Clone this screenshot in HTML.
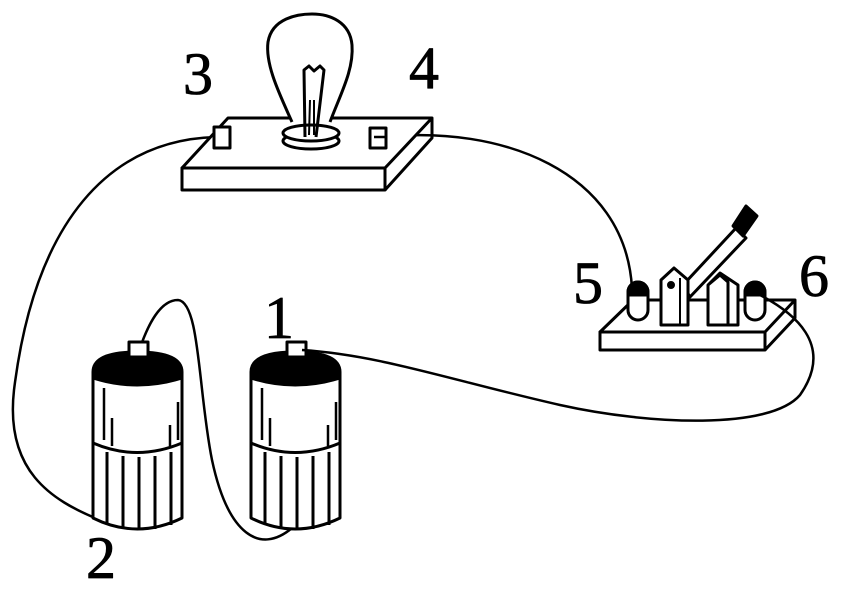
<!DOCTYPE html>
<html><head><style>body{margin:0;background:#fff} .lb{font-family:"Liberation Serif",serif;font-size:60px}</style></head><body>
<svg width="849" height="586" viewBox="0 0 849 586" xmlns="http://www.w3.org/2000/svg" fill="none" stroke="#000" stroke-width="3" stroke-linejoin="round">
<!-- wires -->
<path d="M216,137 C110,140 35,220 14,390 C5,470 50,500 100,520" stroke-width="2.5"/>
<path d="M384,137 C500,125 625,170 632,288" stroke-width="2.5"/>
<path d="M140,348 C148,325 160,300 178,300 C200,302 198,390 212,460 C228,535 260,555 292,528" stroke-width="2.5"/>
<!-- lamp base -->
<path d="M228,118 L432,118 L385,168 L182,168 Z" fill="#fff"/>
<rect x="182" y="168" width="203" height="22" fill="#fff"/>
<path d="M432,118 L432,138 L385,190"/>
<rect x="214" y="127" width="16" height="21" fill="#fff"/>
<rect x="370" y="128" width="16" height="20" fill="#fff"/>
<path d="M374,137 L386,137" stroke-width="2.5"/>
<!-- bulb -->
<path d="M292,122 C280,95 265,65 268,42 C272,18 298,14 312,14 C330,14 350,22 352,45 C354,70 340,95 330,122" fill="#fff"/>
<ellipse cx="311" cy="141" rx="28" ry="8" fill="#fff"/>
<ellipse cx="311" cy="133" rx="28" ry="8" fill="#fff"/>
<path d="M305,137 L304,70 L309,66 L314,71 L320,66 L324,70 L316,137"/>
<path d="M309,135 L310,100 M314,135 L314,100" stroke-width="2"/>
<!-- batteries -->
<g id="b">
<path d="M93,372 L93,518 Q137,540 182,518 L182,372" fill="#fff"/>
<path d="M93,372 Q93,352 137,352 Q182,352 182,372 L182,378 Q137,392 93,378 Z" fill="#000"/>
<path d="M93,443 Q137,462 182,443"/>
<path d="M107,452 L107,525 M123,456 L123,529 M139,457 L139,530 M155,456 L155,529 M171,452 L171,525"/>
<path d="M104,388 L104,440 M112,418 L112,446 M170,425 L170,446 M178,402 L178,440" stroke-width="2.5"/>
<rect x="129" y="342" width="19" height="15" fill="#fff"/>
</g>
<use href="#b" transform="translate(158,0)"/>
<!-- switch -->
<path d="M633,300 L795,300 L765,332 L600,332 Z" fill="#fff"/>
<rect x="600" y="332" width="165" height="18" fill="#fff"/>
<path d="M795,300 L795,318 L765,350"/>
<path d="M640,300 L760,300" stroke-width="2.5"/>
<rect x="628" y="282" width="20" height="38" rx="10" fill="#fff"/>
<path d="M628,295 L628,292 A10,10 0 0 1 648,292 L648,295 Z" fill="#000"/>
<rect x="745" y="282" width="20" height="38" rx="10" fill="#fff"/>
<path d="M745,295 L745,292 A10,10 0 0 1 765,292 L765,295 Z" fill="#000"/>
<path d="M683,285 L736,228 L746,238 L690,297 Z" fill="#fff"/>
<path d="M733,226 L746,206 L757,216 L743,236 Z" fill="#000"/>
<path d="M661,325 L661,280 L674,268 L688,280 L688,325 Z" fill="#fff"/>
<path d="M680,278 L680,325" stroke-width="2"/>
<circle cx="671" cy="285" r="2.5" fill="#000"/>
<path d="M708,325 L708,285 L720,273 L738,285 L738,325 Z M708,285 L720,275 L728,282 L728,325" fill="#fff"/>
<path d="M754,292 C795,312 835,345 800,395 C770,430 650,425 560,405 C450,380 380,355 302,350" stroke-width="2.5"/>
<!-- labels -->
<g fill="#000" stroke="#000" stroke-width="0.8" class="lb">
<text x="183" y="94">3</text>
<text x="409" y="88">4</text>
<text x="573" y="303">5</text>
<text x="799" y="296">6</text>
<text x="264" y="338">1</text>
<text x="86" y="578">2</text>
</g>
</svg>
</body></html>
